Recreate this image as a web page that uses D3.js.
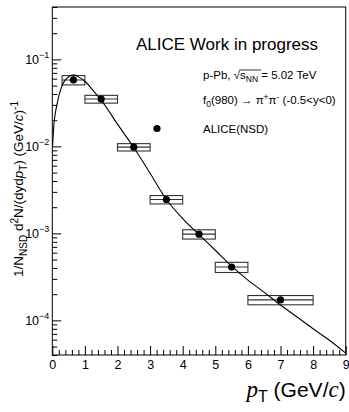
<!DOCTYPE html>
<meta charset="utf-8">
<script src="https://d3js.org/d3.v7.min.js"></script>
<style>
  body { margin: 0; background: #fff; }
  text { font-family: "Liberation Sans", Arial, sans-serif; fill: #000; }
</style>
<div id="my_dataviz"></div>
<script>

  // measured f0(980) spectrum, boxes = systematic uncertainty
  var ptCenter = [0.65, 1.5, 2.5, 3.5, 4.5, 5.5, 7.0];
  var binLow   = [0.3, 1, 2, 3, 4, 5, 6];
  var binHigh  = [1, 2, 3, 4, 5, 6, 8];
  var yieldVal = [0.058, 0.035, 0.0098, 0.00245, 0.00098, 0.00041, 0.000172];
  var sysErr   = [0.0071, 0.0036, 0.00095, 0.00027, 0.00012, 0.000055, 0.000021];

  // fit curve
  var fitPt  = [0.01, 0.05, 0.1, 0.15, 0.2, 0.25, 0.3, 0.4, 0.5, 0.6, 0.7, 0.8, 1.0, 1.25, 1.5, 2.0, 2.5, 3.0, 3.5, 4.0, 4.5, 5.0, 5.5, 6.0, 6.5, 7.0, 7.5, 8.0, 8.5, 9.0];
  var fitVal = [0.0102, 0.018, 0.025, 0.031, 0.038, 0.044, 0.050, 0.058, 0.063, 0.066, 0.066, 0.063, 0.056, 0.044, 0.034, 0.018, 0.0097, 0.0049, 0.00245, 0.00148, 0.00097, 0.00064, 0.00042, 0.00029, 0.00021, 0.00015, 0.00011, 0.00008, 0.000059, 0.000042];

  var xMajor = [0, 1, 2, 3, 4, 5, 6, 7, 8, 9];
  var yMajor = [1e-4, 1e-3, 1e-2, 1e-1];
  var yExp   = ["\u22124", "\u22123", "\u22122", "\u22121"];

  var W = 349, H = 412;
  var mLeft = 52.3, mRight = 345.7, mTop = 7, mBottom = 355;

  var svg = d3.select("#my_dataviz").append("svg")
    .attr("width", W).attr("height", H);

  var x = d3.scaleLinear().domain([0, 9]).range([mLeft, mRight]);
  var y = d3.scaleLog().domain([4e-5, 0.4]).range([mBottom, mTop]);

  // minor tick values
  var xMinor = d3.range(0, 45).map(function(i){ return i * 0.2; }).filter(function(v){ return Math.abs(v - Math.round(v)) > 1e-6; });
  var yMinor = [];
  [1e-5, 1e-4, 1e-3, 1e-2, 1e-1].forEach(function(d){
    for (var k = 2; k <= 9; k++) {
      var v = d * k;
      if (v >= 4e-5 && v <= 0.4) yMinor.push(v);
    }
  });

  // clip
  svg.append("clipPath").attr("id", "clip")
    .append("rect").attr("x", mLeft).attr("y", mTop).attr("width", mRight - mLeft).attr("height", mBottom - mTop);

  // x axis
  var gx = svg.append("g").attr("transform", "translate(0," + mBottom + ")");
  gx.call(d3.axisBottom(x).tickValues(xMajor).tickSizeInner(-9).tickSizeOuter(0).tickPadding(5).tickFormat(d3.format("d")));
  gx.append("g").call(d3.axisBottom(x).tickValues(xMinor).tickSizeInner(-5).tickSizeOuter(0).tickFormat(""));
  gx.selectAll(".domain").remove();
  gx.selectAll("text").style("font-size", "12.5px").attr("font-family", "Liberation Sans, Arial");

  // y axis
  var gy = svg.append("g").attr("transform", "translate(" + mLeft + ",0)");
  gy.call(d3.axisLeft(y).tickValues(yMajor).tickSizeInner(-9).tickSizeOuter(0).tickFormat(""));
  gy.append("g").call(d3.axisLeft(y).tickValues(yMinor).tickSizeInner(-5).tickSizeOuter(0).tickFormat(""));
  gy.selectAll(".domain").remove();

  yMajor.forEach(function(v, i){
    var t = svg.append("text")
      .attr("x", mLeft - 3).attr("y", y(v) + 4.5)
      .attr("text-anchor", "end")
      .style("font-size", "12.5px");
    t.append("tspan").text("10");
    t.append("tspan").attr("dy", -5.5).style("font-size", "9px").text(yExp[i]);
  });

  // frame
  svg.append("rect")
    .attr("x", mLeft).attr("y", mTop)
    .attr("width", mRight - mLeft).attr("height", mBottom - mTop)
    .attr("fill", "none").attr("stroke", "#000").attr("stroke-width", 1);

  // systematic boxes
  var plot = svg.append("g").attr("clip-path", "url(#clip)");
  plot.selectAll("rect.sys")
    .data(ptCenter)
    .enter().append("rect")
      .attr("class", "sys")
      .attr("x", function(d, i){ return x(binLow[i]); })
      .attr("y", function(d, i){ return y(yieldVal[i] + sysErr[i]); })
      .attr("width", function(d, i){ return x(binHigh[i]) - x(binLow[i]); })
      .attr("height", function(d, i){ return y(yieldVal[i] - sysErr[i]) - y(yieldVal[i] + sysErr[i]); })
      .attr("fill", "none").attr("stroke", "#333").attr("stroke-width", 1.1);

  // x error bars
  plot.selectAll("line.xerr")
    .data(ptCenter)
    .enter().append("line")
      .attr("x1", function(d, i){ return x(binLow[i]); })
      .attr("x2", function(d, i){ return x(binHigh[i]); })
      .attr("y1", function(d, i){ return y(yieldVal[i]); })
      .attr("y2", function(d, i){ return y(yieldVal[i]); })
      .attr("stroke", "#333").attr("stroke-width", 1.1);

  // fit curve
  var line = d3.line()
    .x(function(d, i){ return x(fitPt[i]); })
    .y(function(d){ return y(d); })
    .curve(d3.curveMonotoneX);
  plot.append("path")
    .datum(fitVal)
    .attr("d", line)
    .attr("fill", "none").attr("stroke", "#000").attr("stroke-width", 1.1);

  // markers
  plot.selectAll("circle.pt")
    .data(ptCenter)
    .enter().append("circle")
      .attr("cx", function(d){ return x(d); })
      .attr("cy", function(d, i){ return y(yieldVal[i]); })
      .attr("r", 3.6)
      .attr("fill", "#000");

  // legend / labels
  svg.append("text").attr("x", 136).attr("y", 50).style("font-size", "17px").text("ALICE Work in progress");

  var l1 = svg.append("text").attr("x", 203).attr("y", 79).style("font-size", "11.5px");
  l1.append("tspan").text("p-Pb, \u221A");
  l1.append("tspan").text("s");
  l1.append("tspan").attr("dy", 3).style("font-size", "8.5px").text("NN");
  l1.append("tspan").attr("dy", -3).text(" = 5.02 TeV");
  // overline of the square root
  var e0 = l1.node().getExtentOfChar(7), e1 = l1.node().getExtentOfChar(10);
  svg.append("line")
    .attr("x1", e0.x - 0.5).attr("x2", e1.x + e1.width)
    .attr("y1", e0.y + 1).attr("y2", e0.y + 1)
    .attr("stroke", "#000").attr("stroke-width", 0.8);

  var l2 = svg.append("text").attr("x", 203).attr("y", 104).style("font-size", "11.5px");
  l2.append("tspan").text("f");
  l2.append("tspan").attr("dy", 3).style("font-size", "8.5px").text("0");
  l2.append("tspan").attr("dy", -3).text("(980) \u2192 \u03C0");
  l2.append("tspan").attr("dy", -4).style("font-size", "8.5px").text("+");
  l2.append("tspan").attr("dy", 4).text("\u03C0");
  l2.append("tspan").attr("dy", -4).style("font-size", "8.5px").text("-");
  l2.append("tspan").attr("dy", 4).text("  (-0.5<y<0)");

  svg.append("circle").attr("cx", 157).attr("cy", 128.5).attr("r", 3.6).attr("fill", "#000");
  svg.append("text").attr("x", 203).attr("y", 133).style("font-size", "11.5px").text("ALICE(NSD)");

  // y title
  var yt = svg.append("text")
    .attr("transform", "translate(23,189) rotate(-90)")
    .attr("text-anchor", "middle")
    .style("font-size", "13.5px");
  yt.append("tspan").text("1/N");
  yt.append("tspan").attr("dy", 3.5).style("font-size", "10px").text("NSD");
  yt.append("tspan").attr("dy", -3.5).text(" d");
  yt.append("tspan").attr("dy", -5).style("font-size", "10px").text("2");
  yt.append("tspan").attr("dy", 5).text("N/(dyd");
  yt.append("tspan").style("font-style", "italic").text("p");
  yt.append("tspan").attr("dy", 3.5).style("font-size", "10px").text("T");
  yt.append("tspan").attr("dy", -3.5).text(") (GeV/");
  yt.append("tspan").style("font-style", "italic").text("c");
  yt.append("tspan").text(")");
  yt.append("tspan").attr("dy", -5).style("font-size", "10px").text("-1");

  // x title
  var xt = svg.append("text")
    .attr("x", mRight).attr("y", 397)
    .attr("text-anchor", "end")
    .style("font-size", "21px");
  xt.append("tspan").attr("font-family", "Liberation Serif, Times New Roman, serif").style("font-style", "italic").style("font-size", "23px").text("p");
  xt.append("tspan").attr("dy", 5).style("font-size", "16px").text("T");
  xt.append("tspan").attr("dy", -5).text(" (GeV/");
  xt.append("tspan").attr("font-family", "Liberation Serif, Times New Roman, serif").style("font-style", "italic").style("font-size", "23px").text("c");
  xt.append("tspan").text(")");

</script>
